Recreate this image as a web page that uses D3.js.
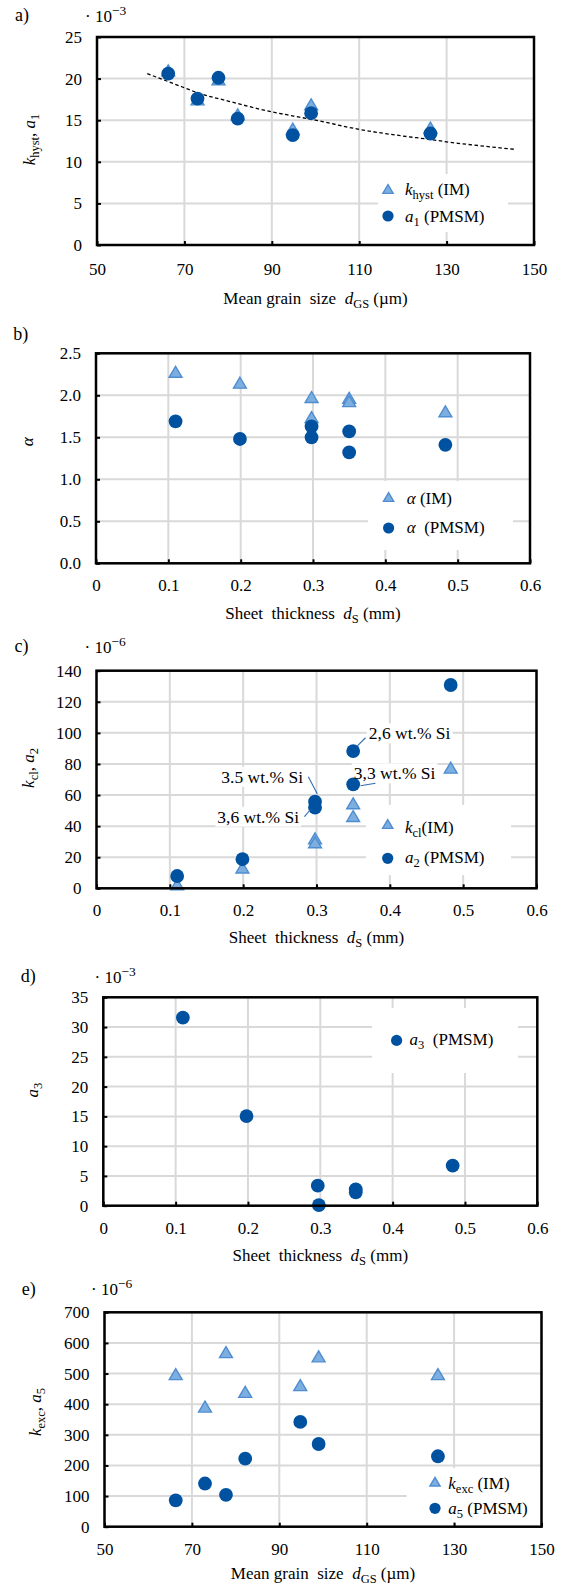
<!DOCTYPE html>
<html>
<head>
<meta charset="utf-8">
<script src="https://cdn.jsdelivr.net/npm/d3@7"></script>
<style>
  html, body { margin: 0; padding: 0; background: #fff; }
  svg { display: block; font-family: "Liberation Serif", "Times New Roman", serif; }
  text { white-space: pre; }
</style>
</head>
<body>
<svg id="chart" width="564" height="1585"></svg>
<script>
// ---- material data ----
// mean grain size of the seven steel grades (µm)
const grainSize = [66.3, 73.0, 77.8, 82.2, 94.8, 99.0, 126.3];
// hysteresis coefficients (×10^-3)
const kHyst = [21.0, 17.5, 19.9, 15.7, 14.0, 16.9, 14.1];
const a1 = [20.6, 17.6, 20.1, 15.2, 13.2, 15.85, 13.4];
// trend of the hysteresis coefficient over grain size (×10^-3)
const trendGrain = [61.5, 70, 73, 80, 90, 95, 100, 110, 120, 126, 130, 140, 145.5];
const trendValue = [20.6, 18.9, 18.3, 17.3, 16.0, 15.5, 15.0, 13.9, 13.1, 12.7, 12.4, 11.8, 11.5];

// sheet thickness (mm)
const thickness = [0.11, 0.199, 0.298, 0.298, 0.35, 0.35, 0.483];
const alphaIM = [2.28, 2.15, 1.98, 1.74, 1.97, 1.93, 1.81];
const alphaPMSM = [1.69, 1.48, 1.63, 1.50, 1.57, 1.32, 1.41];
// classical eddy-current coefficients (×10^-6)
const kCl = [2.5, 13.4, 32.2, 29.6, 54.7, 46.5, 77.6];
const a2 = [7.9, 18.7, 55.7, 51.9, 88.3, 66.9, 130.8];
// a3 coefficient (×10^-3)
const thicknessA3 = [0.11, 0.198, 0.2965, 0.298, 0.349, 0.349, 0.483];
const a3 = [31.6, 15.06, 3.37, 0.1, 2.75, 2.25, 6.74];
// excess-loss coefficients (×10^-6)
const kExc = [498, 392, 570, 440, 462, 556, 498];
const a5 = [86, 141, 104, 222, 342, 270, 230];

// silicon content notes attached to a2 points (index into a2)
const siNotes = ["2,6 wt.% Si", "3,3 wt.% Si", "3.5 wt.% Si", "3,6 wt.% Si"];
const siNoteIndex = [4, 5, 2, 3];

// tick values
const grainTicks = [50, 70, 90, 110, 130, 150];
const thickTicks = [0, 0.1, 0.2, 0.3, 0.4, 0.5, 0.6];
const ticksA = [0, 5, 10, 15, 20, 25];
const ticksB = [0, 0.5, 1.0, 1.5, 2.0, 2.5];
const ticksC = [0, 20, 40, 60, 80, 100, 120, 140];
const ticksD = [0, 5, 10, 15, 20, 25, 30, 35];
const ticksE = [0, 100, 200, 300, 400, 500, 600, 700];

// ---- styling ----
const FS = 17;
const DARK = "#0052a0";
const LIGHT_FILL = "#7caee0";
const LIGHT_STROKE = "#4f8dd0";
const GRID = "#d9d9d9";
const LEADER = "#2e6eb6";

const svg = d3.select("#chart");
svg.append("rect").attr("width", 564).attr("height", 1585).attr("fill", "#fff");

// triangle marker centred on its bounding box
const triangle = {
  draw(ctx, size) {
    const w = Math.sqrt(size) * 1.3, h = w * 0.85;
    ctx.moveTo(0, -h / 2);
    ctx.lineTo(w / 2, h / 2);
    ctx.lineTo(-w / 2, h / 2);
    ctx.closePath();
  }
};

// text with italic / subscript / superscript runs
function rich(parent, x, y, parts, opts = {}) {
  const t = parent.append("text").attr("x", x).attr("y", y)
    .attr("font-size", opts.size || FS).attr("fill", "#000");
  if (opts.anchor) t.attr("text-anchor", opts.anchor);
  if (opts.transform) t.attr("transform", opts.transform);
  let shift = 0;
  parts.forEach(p => {
    const target = p.sub ? 4 : p.sup ? -7 : 0;
    const ts = t.append("tspan").text(p.t);
    if (target - shift !== 0) ts.attr("dy", target - shift);
    shift = target;
    if (p.sub) ts.attr("font-size", 12.5);
    if (p.sup) ts.attr("font-size", 13.5);
    if (p.it) ts.attr("font-style", "italic");
  });
  return t;
}

function marker(g, type, cx, cy, big) {
  if (type === "circle") {
    g.append("circle").attr("cx", cx).attr("cy", cy).attr("r", big ? 6.9 : 5.6)
      .attr("fill", DARK);
  } else {
    g.append("path").attr("d", d3.symbol(triangle, big ? 98 : 62)())
      .attr("transform", `translate(${cx},${cy})`)
      .attr("fill", LIGHT_FILL).attr("stroke", LIGHT_STROKE).attr("stroke-width", 1.4);
  }
}

const fmtInt = d3.format("d");
const fmtThick = d => d === 0 ? "0" : d3.format(".1f")(d);
const fmtOne = d3.format(".1f");

function panel(cfg) {
  const g = svg.append("g");
  const x = d3.scaleLinear().domain(cfg.xDomain).range([cfg.L, cfg.R]);
  const y = d3.scaleLinear().domain(cfg.yDomain).range([cfg.B, cfg.T]);

  // gridlines
  g.append("g").selectAll("line").data(cfg.xTicks).join("line")
    .attr("x1", d => x(d)).attr("x2", d => x(d)).attr("y1", cfg.T).attr("y2", cfg.B)
    .attr("stroke", GRID).attr("stroke-width", 2);
  g.append("g").selectAll("line").data(cfg.yTicks).join("line")
    .attr("y1", d => y(d)).attr("y2", d => y(d)).attr("x1", cfg.L).attr("x2", cfg.R)
    .attr("stroke", GRID).attr("stroke-width", 2);

  // white backgrounds (legend, notes) sit above the grid and below the marks
  const bgLayer = g.append("g");
  const lb = cfg.legend.box;
  bgLayer.append("rect").attr("x", lb[0]).attr("y", lb[1]).attr("width", lb[2]).attr("height", lb[3])
    .attr("fill", "#fff");

  // axes (ticks point inwards)
  const ax = g.append("g").attr("transform", `translate(0,${cfg.B})`)
    .call(d3.axisBottom(x).tickValues(cfg.xTicks).tickFormat(cfg.xFmt).tickSize(-4).tickPadding(cfg.xPad || 16));
  const ay = g.append("g").attr("transform", `translate(${cfg.L},0)`)
    .call(d3.axisLeft(y).tickValues(cfg.yTicks).tickFormat(cfg.yFmt).tickSize(-4).tickPadding(15));
  [ax, ay].forEach(a => {
    a.attr("font-family", null).attr("font-size", FS);
    a.select(".domain").remove();
    a.selectAll(".tick line").attr("stroke", "#000").attr("stroke-width", 2);
    a.selectAll(".tick text").attr("fill", "#000");
  });

  if (cfg.extra) cfg.extra(g, x, y);

  // series: light triangles first, dark circles on top
  cfg.series.forEach(s => {
    const sg = g.append("g");
    s.y.forEach((v, i) => marker(sg, s.type, x(s.x[i]), y(v), true));
  });

  if (cfg.notes) cfg.notes(g.append("g"), bgLayer, x, y);

  // frame
  g.append("rect").attr("x", cfg.L).attr("y", cfg.T)
    .attr("width", cfg.R - cfg.L).attr("height", cfg.B - cfg.T)
    .attr("fill", "none").attr("stroke", "#000").attr("stroke-width", 2.5);

  // legend entries
  cfg.legend.items.forEach(it => {
    marker(g, it.type, it.mx, it.my, false);
    rich(g, it.tx, it.ty, it.parts);
  });

  // panel letter, multiplier, titles
  rich(g, cfg.letter[0], cfg.letter[1], [{ t: cfg.letter[2] }], { size: 18 });
  if (cfg.mult) rich(g, cfg.mult[0], cfg.mult[1], [{ t: "· 10" }, { t: cfg.mult[2], sup: true }]);
  rich(g, (cfg.L + cfg.R) / 2, cfg.xTitle.y, cfg.xTitle.parts, { anchor: "middle" });
  rich(g, 0, 0, cfg.yTitle.parts, {
    anchor: "middle",
    transform: `translate(${cfg.yTitle.x},${cfg.yTitle.cy}) rotate(-90)`
  });
}

const grainTitle = [{ t: "Mean grain  size  " }, { t: "d", it: true }, { t: "GS", sub: true }, { t: " (µm)" }];
const thickTitle = [{ t: "Sheet  thickness  " }, { t: "d", it: true }, { t: "S", sub: true }, { t: " (mm)" }];

// a) hysteresis coefficient vs grain size
panel({
  L: 97, R: 534, T: 37, B: 245, xPad: 18,
  xDomain: [50, 150], yDomain: [0, 25], xTicks: grainTicks, yTicks: ticksA,
  xFmt: fmtInt, yFmt: fmtInt,
  letter: [15, 21, "a)"], mult: [85, 22, "−3"],
  xTitle: { y: 304, parts: grainTitle },
  yTitle: { x: 35, cy: 139.5, parts: [{ t: "k", it: true }, { t: "hyst", sub: true }, { t: ", " }, { t: "a", it: true }, { t: "1", sub: true }] },
  series: [{ type: "tri", x: grainSize, y: kHyst }, { type: "circle", x: grainSize, y: a1 }],
  extra: (g, x, y) => {
    g.append("path")
      .attr("d", d3.line().x((d, i) => x(trendGrain[i])).y(d => y(d)).curve(d3.curveMonotoneX)(trendValue))
      .attr("fill", "none").attr("stroke", "#000").attr("stroke-width", 1.3)
      .attr("stroke-dasharray", "3.5,2.5");
  },
  legend: {
    box: [378, 174, 130, 58],
    items: [
      { type: "tri", mx: 388, my: 189, tx: 405, ty: 195, parts: [{ t: "k", it: true }, { t: "hyst", sub: true }, { t: " (IM)" }] },
      { type: "circle", mx: 388, my: 216, tx: 405, ty: 222, parts: [{ t: "a", it: true }, { t: "1", sub: true }, { t: " (PMSM)" }] }
    ]
  }
});

// b) exponent alpha vs sheet thickness
panel({
  L: 96, R: 530, T: 353.3, B: 563.3,
  xDomain: [0, 0.6], yDomain: [0, 2.5], xTicks: thickTicks, yTicks: ticksB,
  xFmt: fmtThick, yFmt: fmtOne,
  letter: [13.3, 340, "b)"],
  xTitle: { y: 619, parts: thickTitle },
  yTitle: { x: 33, cy: 441.7, parts: [{ t: "α", it: true }] },
  series: [{ type: "tri", x: thickness, y: alphaIM }, { type: "circle", x: thickness, y: alphaPMSM }],
  legend: {
    box: [368, 481, 145, 69],
    items: [
      { type: "tri", mx: 388.6, my: 497, tx: 406.7, ty: 504, parts: [{ t: "α", it: true }, { t: " (IM)" }] },
      { type: "circle", mx: 388.6, my: 528, tx: 406.7, ty: 533, parts: [{ t: "α", it: true }, { t: "  (PMSM)" }] }
    ]
  }
});

// c) classical eddy-current coefficient vs sheet thickness
panel({
  L: 96.5, R: 536.5, T: 670.7, B: 888.3,
  xDomain: [0, 0.6], yDomain: [0, 140], xTicks: thickTicks, yTicks: ticksC,
  xFmt: fmtThick, yFmt: fmtInt,
  letter: [14.5, 652, "c)"], mult: [84.5, 653, "−6"],
  xTitle: { y: 943, parts: thickTitle },
  yTitle: { x: 34, cy: 768, parts: [{ t: "k", it: true }, { t: "cl", sub: true }, { t: ", " }, { t: "a", it: true }, { t: "2", sub: true }] },
  series: [{ type: "tri", x: thickness, y: kCl }, { type: "circle", x: thickness, y: a2 }],
  notes: (g, bg, x, y) => {
    // label offsets and leader endpoints relative to the marked point
    const layout = [
      { tx: 15.6, ty: -11.7, anchor: "start", l: [12.3, -13.3, 4, -5] },
      { tx: 0.6, ty: -5, anchor: "start", l: [22.3, -1, 7.3, 1.4] },
      { tx: -12, ty: -19, anchor: "end", l: [-6.7, -25, 2.3, -7.7] },
      { tx: -16, ty: 15, anchor: "end", l: [-10.6, 9, -4.3, 1.6] }
    ];
    siNotes.forEach((txt, k) => {
      const i = siNoteIndex[k];
      const px = x(thickness[i]), py = y(a2[i]);
      const L = layout[k];
      const t = rich(g, px + L.tx, py + L.ty, [{ t: txt }], { anchor: L.anchor, size: 17.5 });
      const bb = t.node().getBBox();
      bg.append("rect")
        .attr("x", bb.x - 2).attr("y", bb.y).attr("width", bb.width + 4).attr("height", bb.height)
        .attr("fill", "#fff");
      g.append("line")
        .attr("x1", px + L.l[0]).attr("y1", py + L.l[1]).attr("x2", px + L.l[2]).attr("y2", py + L.l[3])
        .attr("stroke", LEADER).attr("stroke-width", 1.1);
    });
  },
  legend: {
    box: [366, 805, 145, 70],
    items: [
      { type: "tri", mx: 387.7, my: 824, tx: 405, ty: 833, parts: [{ t: "k", it: true }, { t: "cl", sub: true }, { t: "(IM)" }] },
      { type: "circle", mx: 387.7, my: 858.3, tx: 405, ty: 863, parts: [{ t: "a", it: true }, { t: "2", sub: true }, { t: " (PMSM)" }] }
    ]
  }
});

// d) a3 vs sheet thickness
panel({
  L: 103.3, R: 537.3, T: 997.3, B: 1205.7,
  xDomain: [0, 0.6], yDomain: [0, 35], xTicks: thickTicks, yTicks: ticksD,
  xFmt: fmtThick, yFmt: fmtInt,
  letter: [20.7, 982, "d)"], mult: [94.5, 983, "−3"],
  xTitle: { y: 1261, parts: thickTitle },
  yTitle: { x: 38, cy: 1090, parts: [{ t: "a", it: true }, { t: "3", sub: true }] },
  series: [{ type: "circle", x: thicknessA3, y: a3 }],
  legend: {
    box: [372, 1008, 146, 65],
    items: [
      { type: "circle", mx: 396.6, my: 1040.4, tx: 409.6, ty: 1045, parts: [{ t: "a", it: true }, { t: "3", sub: true }, { t: "  (PMSM)" }] }
    ]
  }
});

// e) excess-loss coefficient vs grain size
panel({
  L: 104.5, R: 541.5, T: 1312.3, B: 1526.7,
  xDomain: [50, 150], yDomain: [0, 700], xTicks: grainTicks, yTicks: ticksE,
  xFmt: fmtInt, yFmt: fmtInt,
  letter: [21.7, 1295, "e)"], mult: [91, 1295, "−6"],
  xTitle: { y: 1579, parts: grainTitle },
  yTitle: { x: 41, cy: 1412, parts: [{ t: "k", it: true }, { t: "exc", sub: true }, { t: ", " }, { t: "a", it: true }, { t: "5", sub: true }] },
  series: [{ type: "tri", x: grainSize, y: kExc }, { type: "circle", x: grainSize, y: a5 }],
  legend: {
    box: [406.7, 1468, 134, 54],
    items: [
      { type: "tri", mx: 435, my: 1481.7, tx: 448.3, ty: 1489.3, parts: [{ t: "k", it: true }, { t: "exc", sub: true }, { t: " (IM)" }] },
      { type: "circle", mx: 435, my: 1508.3, tx: 448.3, ty: 1514, parts: [{ t: "a", it: true }, { t: "5", sub: true }, { t: " (PMSM)" }] }
    ]
  }
});
</script>
</body>
</html>
